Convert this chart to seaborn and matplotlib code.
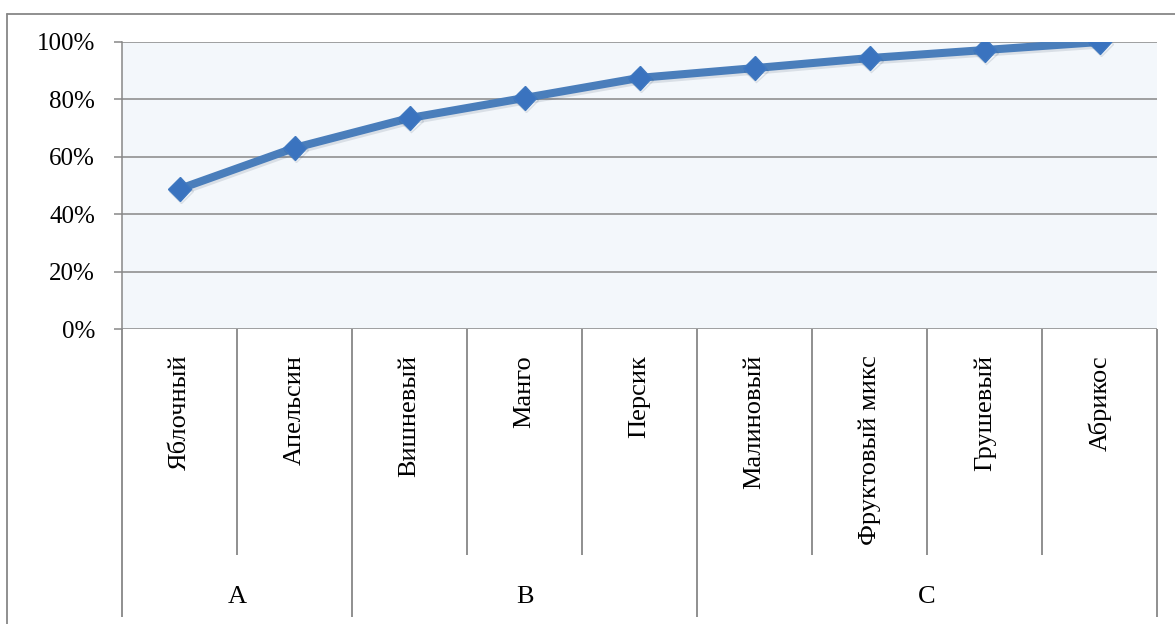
import matplotlib
matplotlib.use("Agg")
import matplotlib.pyplot as plt
import matplotlib.patheffects as pe
from matplotlib.lines import Line2D
from matplotlib.ticker import PercentFormatter
import seaborn as sns
import pandas as pd

# Cumulative share by juice flavour (ABC analysis)
categories = ["Яблочный", "Апельсин", "Вишневый", "Манго", "Персик",
              "Малиновый", "Фруктовый микс", "Грушевый", "Абрикос"]
cumulative_share = [48.8, 63.1, 73.5, 80.5, 87.5, 90.9, 94.4, 97.2, 100.0]
group_names = ["A", "B", "C"]
group_sizes = [2, 3, 4]
y_ticks = [0, 20, 40, 60, 80, 100]

sns.set_theme(style="white")
plt.rcParams["font.family"] = ["Liberation Serif", "DejaVu Serif"]

FS = 18
FS_CAT = 19
GRID = "#878787"
BLUE = "#4A7EBB"

df = pd.DataFrame({"pos": range(len(categories)), "share": cumulative_share})

fig = plt.figure(figsize=(11.75, 6.24), dpi=100)
fig.patch.set_facecolor("white")
ax = fig.add_axes([122 / 1175, 1 - 329 / 624, (1157 - 122) / 1175, (329 - 42) / 624])
ax.set_facecolor("#F3F7FB")

sns.lineplot(data=df, x="pos", y="share", ax=ax, color=BLUE, linewidth=5.8,
             marker="D", markersize=12, markerfacecolor="#3A73BF",
             markeredgecolor="#3F78C0", markeredgewidth=1, zorder=5)
ax.lines[0].set_path_effects([
    pe.SimpleLineShadow(offset=(1.0, -1.8), shadow_color="#1F3550", alpha=0.12),
    pe.Normal(),
])

n = len(categories)
ax.set_xlim(-0.5, n - 0.5)
ax.set_ylim(0, 100)
ax.set_yticks(y_ticks)
ax.yaxis.set_major_formatter(PercentFormatter(decimals=0))
ax.set_xticks([])
ax.set_xlabel("")
ax.set_ylabel("")
ax.grid(axis="y", color=GRID, linewidth=1.1)
ax.set_axisbelow(True)
ax.tick_params(axis="y", left=True, length=5.8, width=1.1, color=GRID,
               pad=13.5, labelsize=FS, labelcolor="black")

for side in ["top", "right", "bottom"]:
    ax.spines[side].set_visible(False)
ax.spines["left"].set_color(GRID)
ax.spines["left"].set_linewidth(1.1)

# Two-level category axis below the plot area
trans = ax.get_xaxis_transform()
px = 287.0  # axes height in pixels
inner_bottom = -(555 - 329) / px
group_bottom = -(617 - 329) / px

boundaries = [-0.5]
acc = -0.5
for size in group_sizes:
    acc += size
    boundaries.append(acc)

for i in range(n + 1):
    xb = i - 0.5
    y_end = group_bottom if xb in boundaries else inner_bottom
    ax.plot([xb, xb], [0, y_end], transform=trans, color=GRID, lw=1.3,
            clip_on=False, solid_capstyle="butt")

for i, name in enumerate(categories):
    ax.text(i, -(355 - 329) / px, name, transform=trans, rotation=90,
            ha="center", va="top", fontsize=FS_CAT, color="black")

for g, name in enumerate(group_names):
    center = (boundaries[g] + boundaries[g + 1]) / 2
    ax.text(center, -(597 - 329) / px, name, transform=trans,
            ha="center", va="center", fontsize=FS_CAT, color="black")

# Chart frame
fig.add_artist(Line2D([7 / 1175, 1.0], [1 - 14 / 624, 1 - 14 / 624],
                      color=GRID, lw=1.3, transform=fig.transFigure))
fig.add_artist(Line2D([7 / 1175, 7 / 1175], [0.0, 1 - 14 / 624],
                      color=GRID, lw=1.3, transform=fig.transFigure))

fig.savefig("out.png", dpi=100, facecolor="white")
